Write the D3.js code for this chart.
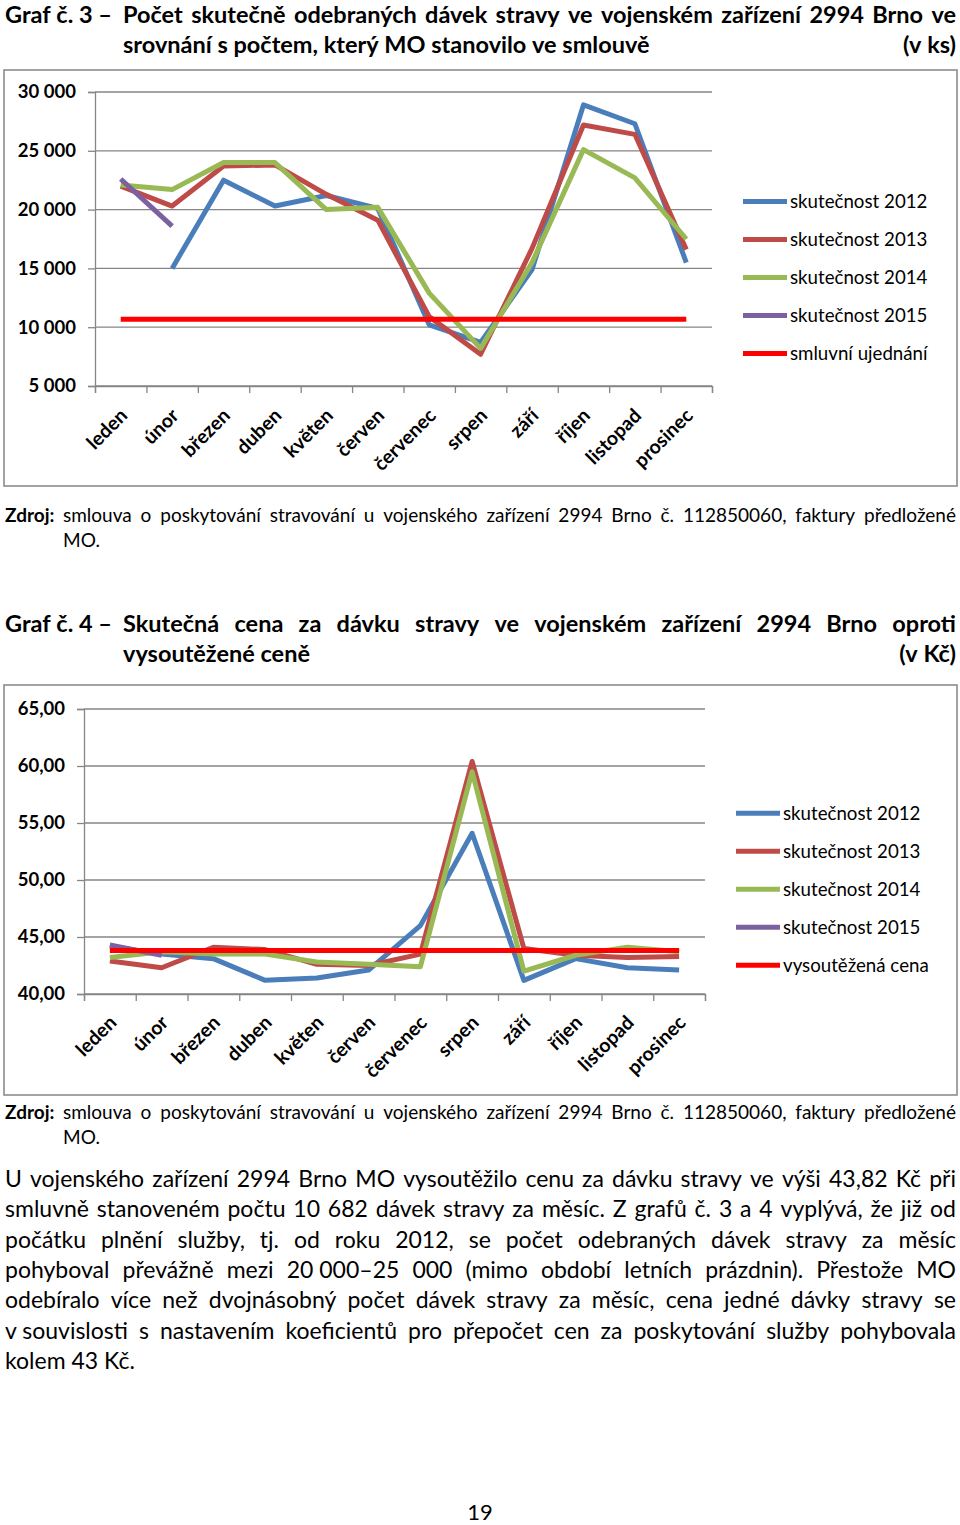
<!DOCTYPE html>
<html><head><meta charset="utf-8">
<script src="https://cdn.jsdelivr.net/npm/d3@7"></script>
<style>
body{margin:0;background:#fff}
svg{display:block}
text{font-family:Lato,"Open Sans",sans-serif;fill:#000}
</style>
</head><body>
<svg id="c" width="960" height="1525"></svg>
<script>
// ---------- data ----------
const months = ["leden","únor","březen","duben","květen","červen","červenec","srpen","září","říjen","listopad","prosinec"];

// Graf 3 – počet dávek (ks)
const count2012 = [null, 15000, 22500, 20300, 21200, 20100, 10200, 8700, 14900, 28900, 27300, 15500];
const count2013 = [22000, 20300, 23700, 23800, 21300, 19100, 10900, 7700, 16700, 27200, 26400, 16600];
const count2014 = [22100, 21700, 24000, 24000, 20000, 20200, 12900, 8200, 15500, 25100, 22700, 17500];
const count2015 = [22600, 18600, null, null, null, null, null, null, null, null, null, null];
const countContract = [10682, 10682, 10682, 10682, 10682, 10682, 10682, 10682, 10682, 10682, 10682, 10682];
const countTicks = [5000, 10000, 15000, 20000, 25000, 30000];
const countLegend = ["skutečnost 2012","skutečnost 2013","skutečnost 2014","skutečnost 2015","smluvní ujednání"];

// Graf 4 – cena za dávku (Kč)
const price2012 = [44.2, 43.5, 43.1, 41.2, 41.4, 42.1, 46.0, 54.1, 41.2, 43.1, 42.3, 42.1];
const price2013 = [42.9, 42.3, 44.1, 43.9, 42.6, 42.5, 43.5, 60.4, 44.0, 43.4, 43.2, 43.3];
const price2014 = [43.2, 43.7, 43.5, 43.5, 42.8, 42.6, 42.4, 59.5, 42.0, 43.4, 44.1, 43.7];
const price2015 = [44.3, 43.4, null, null, null, null, null, null, null, null, null, null];
const priceTender = [43.82, 43.82, 43.82, 43.82, 43.82, 43.82, 43.82, 43.82, 43.82, 43.82, 43.82, 43.82];
const priceTicks = [40, 45, 50, 55, 60, 65];
const priceLegend = ["skutečnost 2012","skutečnost 2013","skutečnost 2014","skutečnost 2015","vysoutěžená cena"];

// ---------- drawing ----------
const svg = d3.select("#c");
svg.append("rect").attr("width",960).attr("height",1525).attr("fill","#fff");

const loc = d3.formatLocale({decimal:",", thousands:"\u00a0", grouping:[3], currency:["",""]});
const GRID = "#868686";
const COLORS = ["#4A7EBB","#BE4B48","#98B954","#7D60A0","#FF0000"];

function measure(el){ return el.node().getComputedTextLength(); }

function placeWords(str, x0, x1, y, o){
  const g = svg.append("g");
  const words = str.split(" ");
  const wt = o.weight || 400;
  const els = words.map(w => g.append("text").attr("y", y).attr("font-size", o.size).attr("font-weight", wt).text(w));
  const ws = els.map(e => measure(e));
  const p1 = g.append("text").attr("font-size",o.size).attr("font-weight",wt).text("n n");
  const p2 = g.append("text").attr("font-size",o.size).attr("font-weight",wt).text("nn");
  const sp = measure(p1) - measure(p2);
  p1.remove(); p2.remove();
  const total = d3.sum(ws);
  let gap = sp, start = x0, k = 1;
  if (o.mode === "justify" && words.length > 1) {
    gap = (x1 - x0 - total) / (words.length - 1);
    if (gap < sp * 0.6) { gap = sp * 0.6; k = (x1 - x0 - gap * (words.length - 1)) / total; }
  } else if (o.mode === "end") {
    start = x1 - total - sp * (words.length - 1);
  }
  let cx = start;
  els.forEach((e, i) => {
    const w = ws[i] * k;
    e.attr("x", cx);
    if (k !== 1) e.attr("textLength", w).attr("lengthAdjust", "spacingAndGlyphs");
    cx += w + gap;
  });
}

function drawChart(o){
  const g = svg.append("g");
  g.append("rect").attr("x",o.box[0]).attr("y",o.box[1])
    .attr("width",o.box[2]-o.box[0]).attr("height",o.box[3]-o.box[1])
    .attr("fill","none").attr("stroke","#8c8c8c").attr("stroke-width",1.6);

  const x = d3.scaleBand().domain(months).range([o.x0, o.x1]);
  const xi = d3.scaleLinear().domain([0, months.length]).range([o.x0, o.x1]);
  const y = d3.scaleLinear().domain(o.domain).range([o.yBot, o.yTop]);

  g.append("g").selectAll("line").data(o.ticks).join("line")
    .attr("x1",o.x0).attr("x2",o.x1).attr("y1",d=>y(d)).attr("y2",d=>y(d))
    .attr("stroke",GRID).attr("stroke-width",1.3);

  const ya = g.append("g").attr("transform",`translate(${o.x0},0)`)
    .call(d3.axisLeft(y).tickValues(o.ticks).tickFormat(o.fmt).tickSize(7).tickPadding(12));
  ya.select(".domain").attr("stroke",GRID).attr("stroke-width",1.3);
  ya.selectAll(".tick line").attr("stroke",GRID).attr("stroke-width",1.3);
  ya.selectAll("text").attr("font-size",18.5).attr("font-weight",700).attr("fill","#000");

  const xa = g.append("g").attr("transform",`translate(0,${o.yBot})`)
    .call(d3.axisBottom(xi).tickValues(d3.range(months.length+1)).tickFormat("").tickSize(7));
  xa.select(".domain").attr("stroke",GRID).attr("stroke-width",1.3);
  xa.selectAll(".tick line").attr("stroke",GRID).attr("stroke-width",1.3);

  g.append("g").selectAll("text").data(months).join("text")
    .attr("transform", d => `translate(${x(d)+x.bandwidth()/2+3},${o.yBot+o.labOff}) rotate(-45)`)
    .attr("text-anchor","end").attr("dy","0.35em")
    .attr("font-size",19.5).attr("font-weight",700).text(d=>d);

  const line = d3.line().defined(d=>d.v!=null)
    .x(d=>x(d.m)+x.bandwidth()/2).y(d=>y(d.v));
  o.series.forEach((s,i)=>{
    g.append("path").datum(months.map((m,j)=>({m, v:s[j]})))
      .attr("d",line).attr("fill","none").attr("stroke",COLORS[i])
      .attr("stroke-width",5).attr("stroke-linejoin","round");
  });

  o.legend.forEach((name,i)=>{
    const ly = o.legY + i*38;
    g.append("line").attr("x1",o.legX).attr("x2",o.legX+44).attr("y1",ly).attr("y2",ly)
      .attr("stroke",COLORS[i]).attr("stroke-width",5);
    g.append("text").attr("x",o.legX+47).attr("y",ly).attr("dy","0.35em")
      .attr("font-size",18.7).text(name);
  });
}

// ---- Graf 3 ----
const TS = 23.5;
placeWords("Graf č. 3 –", 5, 112, 23.4, {size:TS, weight:700, mode:"justify"});
placeWords("Počet skutečně odebraných dávek stravy ve vojenském zařízení 2994 Brno ve", 123, 956, 23.4, {size:TS, weight:700, mode:"justify"});
placeWords("srovnání s počtem, který MO stanovilo ve smlouvě", 123, 956, 52.5, {size:TS, weight:700, mode:"start"});
placeWords("(v ks)", 123, 956, 52.5, {size:TS, weight:700, mode:"end"});

drawChart({
  box:[4,70,957,486], x0:95, x1:712, yTop:92, yBot:386, labOff:26,
  domain:[5000,30000], ticks:countTicks, fmt:loc.format(","),
  series:[count2012,count2013,count2014,count2015,countContract],
  legend:countLegend, legX:743, legY:201.5
});

placeWords("Zdroj:", 5, 60, 521.5, {size:19, weight:700, mode:"start"});
placeWords("smlouva o poskytování stravování u vojenského zařízení 2994 Brno č. 112850060, faktury předložené", 63, 956, 521.5, {size:19, mode:"justify"});
placeWords("MO.", 63, 956, 547.3, {size:19, mode:"start"});

// ---- Graf 4 ----
placeWords("Graf č. 4 –", 5, 112, 632, {size:TS, weight:700, mode:"justify"});
placeWords("Skutečná cena za dávku stravy ve vojenském zařízení 2994 Brno oproti", 123, 956, 632, {size:TS, weight:700, mode:"justify"});
placeWords("vysoutěžené ceně", 123, 956, 662, {size:TS, weight:700, mode:"start"});
placeWords("(v Kč)", 123, 956, 662, {size:TS, weight:700, mode:"end"});

drawChart({
  box:[4,685,957,1095], x0:84, x1:705, yTop:709, yBot:994, labOff:25,
  domain:[40,65], ticks:priceTicks, fmt:loc.format(",.2f"),
  series:[price2012,price2013,price2014,price2015,priceTender],
  legend:priceLegend, legX:736, legY:813.3
});

placeWords("Zdroj:", 5, 60, 1118.7, {size:19, weight:700, mode:"start"});
placeWords("smlouva o poskytování stravování u vojenského zařízení 2994 Brno č. 112850060, faktury předložené", 63, 956, 1118.7, {size:19, mode:"justify"});
placeWords("MO.", 63, 956, 1144.3, {size:19, mode:"start"});

// ---- odstavec ----
const para = [
  "U vojenského zařízení 2994 Brno MO vysoutěžilo cenu za dávku stravy ve výši 43,82 Kč při",
  "smluvně stanoveném počtu 10 682 dávek stravy za měsíc. Z grafů č. 3 a 4 vyplývá, že již od",
  "počátku plnění služby, tj. od roku 2012, se počet odebraných dávek stravy za měsíc",
  "pohyboval převážně mezi 20\u00a0000–25 000 (mimo období letních prázdnin). Přestože MO",
  "odebíralo více než dvojnásobný počet dávek stravy za měsíc, cena jedné dávky stravy se",
  "v\u00a0souvislosti s nastavením koeficientů pro přepočet cen za poskytování služby pohybovala",
  "kolem 43 Kč."
];
para.forEach((s,i)=>{
  placeWords(s, 5, 956, 1186.7 + i*30.43, {size:23, mode: i < para.length-1 ? "justify" : "start"});
});

svg.append("text").attr("x",480).attr("y",1520).attr("text-anchor","middle").attr("font-size",22).text("19");
</script>
</body></html>
